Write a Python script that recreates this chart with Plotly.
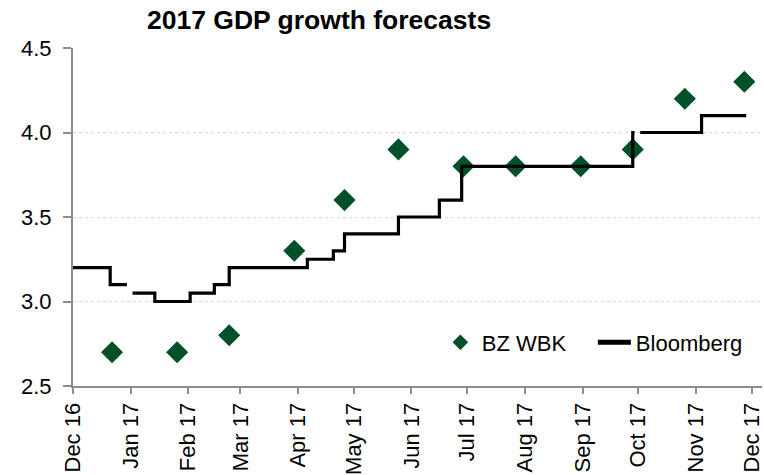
import plotly.graph_objects as go

# BZ WBK forecasts (diamonds)
bz_dates = ["2016-12-22", "2017-01-26", "2017-02-23", "2017-03-30", "2017-04-26",
            "2017-05-25", "2017-06-29", "2017-07-27", "2017-08-31", "2017-09-28",
            "2017-10-26", "2017-11-27", "2017-12-11"]
bz_values = [2.7, 2.7, 2.8, 3.3, 3.6, 3.9, 3.8, 3.8, 3.8, 3.9, 4.2, 4.3, 4.5]

# Bloomberg consensus (step line, None = gap)
bbg_dates = ["2016-12-01", "2016-12-21", "2016-12-30", None, "2017-01-02", "2017-01-14",
             "2017-02-02", "2017-02-15", "2017-02-23", "2017-04-06", "2017-04-20",
             "2017-04-26", "2017-05-25", "2017-06-16", "2017-06-28", "2017-09-28",
             "2017-09-29", None, "2017-10-02", "2017-11-04", "2017-11-28"]
bbg_values = [3.2, 3.1, 3.1, None, 3.05, 3.0, 3.05, 3.1, 3.2, 3.25, 3.3, 3.4, 3.5,
              3.6, 3.8, 4.0, 4.0, None, 4.0, 4.1, 4.1]

tick_vals = ["2016-12-01", "2017-01-01", "2017-02-01", "2017-03-01", "2017-04-01",
             "2017-05-01", "2017-06-01", "2017-07-01", "2017-08-01", "2017-09-01",
             "2017-10-01", "2017-11-01", "2017-12-01"]
tick_text = ["Dec 16", "Jan 17", "Feb 17", "Mar 17", "Apr 17", "May 17", "Jun 17",
             "Jul 17", "Aug 17", "Sep 17", "Oct 17", "Nov 17", "Dec 17"]

FONT = "Liberation Sans, Arial, sans-serif"
GREEN = "#00502A"
GREY = "#8C8C8C"

fig = go.Figure()
fig.add_trace(go.Scatter(
    x=bz_dates, y=bz_values, mode="markers", name="BZ WBK", cliponaxis=False,
    marker=dict(symbol="diamond", size=17, color=GREEN, line=dict(width=0)),
))
fig.add_trace(go.Scatter(
    x=bbg_dates, y=bbg_values, mode="lines", name="Bloomberg",
    line=dict(color="black", width=3.2, shape="hv"), connectgaps=False,
))

fig.update_layout(
    width=764, height=475,
    margin=dict(l=73, r=0, t=48, b=86),
    paper_bgcolor="white", plot_bgcolor="white",
    font=dict(family=FONT, size=22, color="black"),
    title=dict(text="<b>2017 GDP growth forecasts</b>", x=147/764, xanchor="left",
               xref="container", y=1-20/475, yanchor="middle", yref="container",
               font=dict(family=FONT, size=26.5, color="black")),
    showlegend=True,
    legend=dict(orientation="h", x=0.531, xanchor="left", y=0.129, yanchor="middle",
                bgcolor="rgba(0,0,0,0)", font=dict(size=22, family=FONT),
                itemsizing="constant", traceorder="normal",
                itemwidth=33, entrywidth=106, entrywidthmode="pixels"),
    xaxis=dict(type="date", range=["2016-12-01", "2017-12-06 12:00"],
               tickvals=tick_vals, ticktext=tick_text, tickangle=-90,
               showgrid=False, showline=True, linecolor=GREY, linewidth=2,
               ticks="outside", ticklen=6, tickcolor=GREY, tickwidth=2,
               zeroline=False, tickfont=dict(size=22), ticklabeloverflow="allow"),
    yaxis=dict(range=[2.5, 4.5], dtick=0.5, tick0=2.5, tickformat=".1f",
               showgrid=True, gridcolor="#D9D9D9", griddash="dot", gridwidth=1,
               showline=True, linecolor=GREY, linewidth=2,
               ticks="outside", ticklen=8, tickcolor=GREY, tickwidth=2,
               zeroline=False, ticklabelstandoff=7, tickfont=dict(size=22)),
)

fig.write_html("out.html")
